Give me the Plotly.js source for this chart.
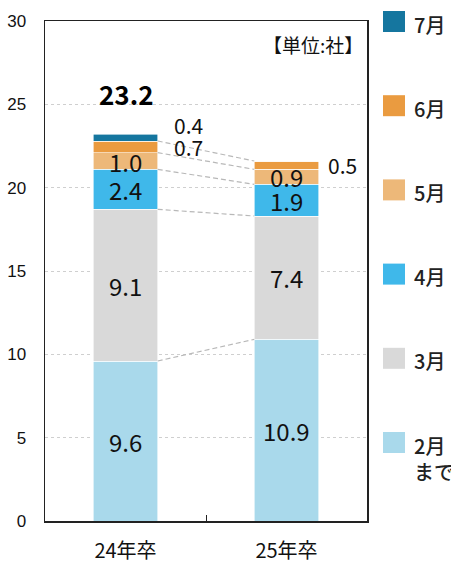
<!DOCTYPE html>
<html>
<head>
<meta charset="utf-8">
<script src="https://cdn.plot.ly/plotly-3.0.1.min.js"></script>
<style>
  html, body { margin: 0; padding: 0; background: #fff; }
  #chart { width: 451px; height: 562px; }
</style>
</head>
<body>
<div id="chart"></div>
<script>
// Graduating classes
const categories = ['24年卒', '25年卒'];

// Companies per month (stacked from the bottom)
const febOrEarlier = [9.6, 10.9];
const march = [9.1, 7.4];
const april = [2.4, 1.9];
const may = [1.0, 0.9];
const june = [0.7, 0.5];
const july = [0.4, 0];

const seriesNames = ['2月<br>まで', '3月', '4月', '5月', '6月', '7月'];
const seriesColors = ['#a9d9eb', '#d9d9d9', '#3fb8ea', '#edb879', '#ea9b40', '#15769f'];

const yTicks = [0, 5, 10, 15, 20, 25, 30];
const unitText = '【単位:社】';
// Categories whose total is printed above the bar
const totalShownFor = ['24年卒'];

const seriesValues = [febOrEarlier, march, april, may, june, july];

const NUM_FONT = 'Noto Sans CJK JP, sans-serif';
const JP_FONT = 'Noto Sans CJK JP, sans-serif';
const BAR_WIDTH = 0.4;
const SMALL = 0.8; // segments thinner than this get their label outside

const traces = seriesValues.map((vals, i) => ({
  type: 'bar',
  name: seriesNames[i],
  x: categories,
  y: vals,
  width: BAR_WIDTH,
  marker: { color: seriesColors[i], line: { color: '#ffffff', width: 0.6 } },
  hoverinfo: 'skip',
  showlegend: false
}));

// cumulative tops of each segment
const tops = seriesValues.map((_, i) =>
  categories.map((_, c) => seriesValues.slice(0, i + 1).reduce((s, v) => s + v[c], 0)));

const annotations = [];
const shapes = [];

// value labels
seriesValues.forEach((vals, i) => {
  vals.forEach((v, c) => {
    if (!v) return;
    const mid = tops[i][c] - v / 2;
    const txt = v.toFixed(1);
    if (v >= SMALL) {
      annotations.push({
        x: c, y: mid, xref: 'x', yref: 'y', text: txt, showarrow: false,
        font: { family: NUM_FONT, size: 24, color: '#111' },
        xanchor: 'center', yanchor: 'middle', borderpad: 0
      });
    } else {
      // a small segment stacked on another small one gets its label lifted
      const below = i > 0 ? seriesValues[i - 1][c] : 0;
      const lifted = below > 0 && below < SMALL;
      annotations.push({
        x: c, y: mid, xref: 'x', yref: 'y', text: txt, showarrow: false,
        font: { family: NUM_FONT, size: 21, color: '#111' },
        xanchor: 'left', yanchor: 'middle', borderpad: 0,
        xshift: c === 0 ? 47 : 40,
        yshift: lifted ? 13 : 0
      });
    }
  });
});

// total above bar
categories.forEach((cat, c) => {
  if (!totalShownFor.includes(cat)) return;
  const total = seriesValues.reduce((s, v) => s + v[c], 0);
  annotations.push({
    x: c, y: total, xref: 'x', yref: 'y', text: '<b>' + total.toFixed(1) + '</b>',
    showarrow: false, font: { family: NUM_FONT, size: 26, color: '#000' },
    xanchor: 'center', yanchor: 'bottom', yshift: 20
  });
});

// dashed connectors between the segment tops of neighbouring bars
for (let i = 0; i < seriesValues.length; i++) {
  for (let c = 0; c + 1 < categories.length; c++) {
    if (!seriesValues[i][c] || !seriesValues[i][c + 1]) continue;
    shapes.push({
      type: 'line', xref: 'x', yref: 'y',
      x0: c + BAR_WIDTH / 2, x1: c + 1 - BAR_WIDTH / 2,
      y0: tops[i][c], y1: tops[i][c + 1],
      line: { color: '#b8b8b8', width: 1.2, dash: '5px,3px' }
    });
  }
}

// legend, top to bottom from the latest month
const legendStep = 84.2 / 500;
for (let k = 0; k < seriesNames.length; k++) {
  const i = seriesNames.length - 1 - k;
  const yc = 1 - 0.001 - k * legendStep;
  shapes.push({
    type: 'rect', xref: 'paper', yref: 'paper',
    xsizemode: 'pixel', ysizemode: 'pixel',
    xanchor: 1, yanchor: yc,
    x0: 16, x1: 38, y0: -10.5, y1: 10.5,
    fillcolor: seriesColors[i], line: { width: 0 }
  });
  annotations.push({
    xref: 'paper', yref: 'paper', x: 1, y: yc, text: seriesNames[i],
    showarrow: false, align: 'left', xanchor: 'left', yanchor: 'top',
    xshift: 45, yshift: 14,
    font: { family: JP_FONT, size: 20, color: '#222', weight: 500 }
  });
}

// unit note
annotations.push({
  xref: 'paper', yref: 'paper', x: 1, y: 0.953, text: unitText,
  showarrow: false, xanchor: 'right', yanchor: 'middle', xshift: -2,
  font: { family: JP_FONT, size: 19, color: '#111' }
});

const layout = {
  width: 451, height: 562,
  margin: { l: 45, r: 84, t: 21, b: 41 },
  paper_bgcolor: '#fff', plot_bgcolor: '#fff',
  barmode: 'stack',
  showlegend: false,
  xaxis: {
    type: 'category', range: [-0.5, 1.5],
    showline: true, linecolor: '#222', linewidth: 1.5, mirror: true,
    ticks: 'inside', ticklen: 6, tickcolor: '#222', tickwidth: 1,
    tickson: 'boundaries', showgrid: false,
    tickfont: { family: JP_FONT, size: 20, color: '#111' },
    ticklabelstandoff: 11
  },
  yaxis: {
    range: [0, 30], tickvals: yTicks, ticktext: yTicks.map(String),
    showline: true, linecolor: '#222', linewidth: 1.5, mirror: true,
    ticks: '', showgrid: true, gridcolor: '#cfcfcf', griddash: 'dot', gridwidth: 1,
    zeroline: false,
    tickfont: { family: 'Liberation Sans, Arial, sans-serif', size: 17, color: '#111' },
    ticklabelstandoff: 14
  },
  shapes, annotations
};

Plotly.newPlot('chart', traces, layout, { displayModeBar: false, staticPlot: true });
</script>
</body>
</html>
